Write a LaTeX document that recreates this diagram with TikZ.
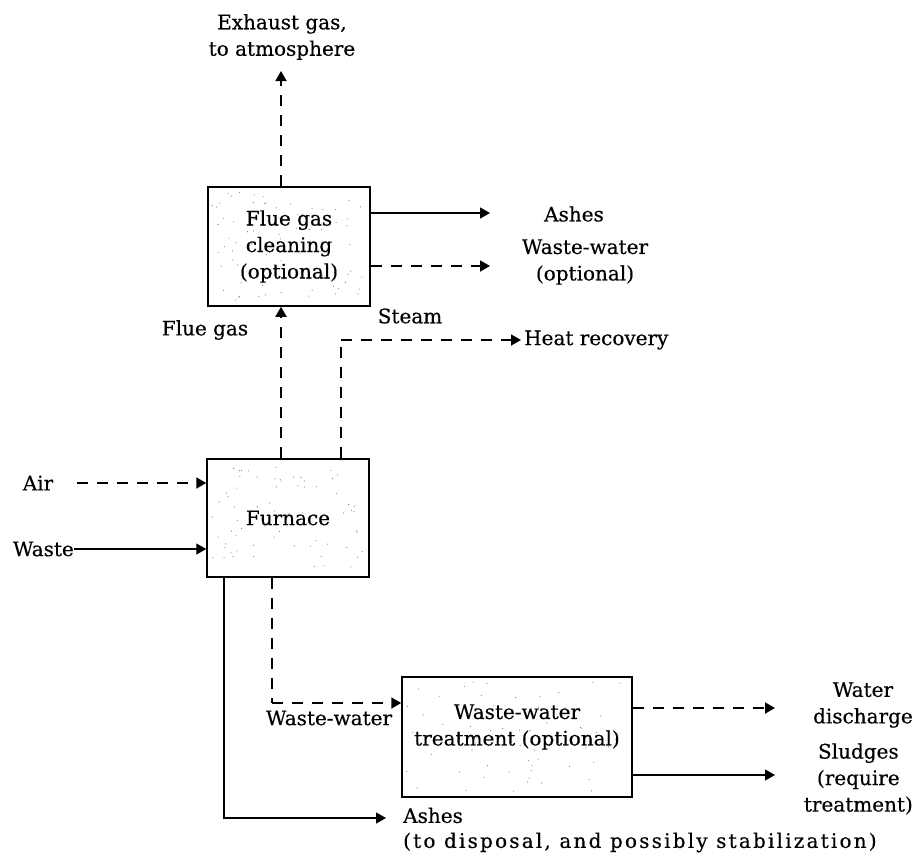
\documentclass[tikz,border=0pt]{standalone}
\usepackage{fontspec}
\setmainfont{DejaVu Serif}[FakeBold=0.4]
\usetikzlibrary{arrows.meta,calc,backgrounds}
\tikzset{
  txt/.style={font=\fontsize{20}{26.5}\selectfont, inner sep=0pt, align=center},
  procbox/.style={draw, line width=1.5pt, inner sep=0pt, align=center, font=\fontsize{20}{26.5}\selectfont},
  flow/.style={line width=1.3pt, -{Triangle[length=10pt,width=11pt]}},
  dflow/.style={line width=1.8pt, dash pattern=on 11pt off 9pt, -{Triangle[length=10pt,width=11pt]}},
  dline/.style={line width=1.8pt, dash pattern=on 11pt off 9pt},
  speck/.style={fill=black!55}
}
\begin{document}
\begin{tikzpicture}[x=1pt,y=-1pt]
\useasboundingbox (0,0) rectangle (915,854);
% process boxes
\node[procbox, minimum width=162pt, minimum height=119pt] (flue) at (289,246.5) {Flue gas\\cleaning\\(optional)};
\node[procbox, minimum width=162pt, minimum height=118pt] (furn) at (288,518) {Furnace};
\node[procbox, minimum width=230pt, minimum height=120pt] (wwt) at (517,737) {};
\node[txt] (wwttext) at (517,727) {Waste-water\\treatment (optional)};
% speckle texture
\begin{pgfonlayer}{background}
\pgfmathsetseed{7}
\foreach \i in {1,...,80}{\fill[speck] ($(flue.north west)+({5+rnd*152},{5+rnd*109})$) circle (0.55pt);}
\foreach \i in {1,...,70}{\fill[speck] ($(furn.north west)+({5+rnd*152},{5+rnd*108})$) circle (0.55pt);}
\foreach \i in {1,...,60}{\fill[speck] ($(wwt.north west)+({5+rnd*220},{5+rnd*110})$) circle (0.55pt);}
\end{pgfonlayer}
% labels
\node[txt] (exh) at (282,37) {Exhaust gas,\\to atmosphere};
\node[txt] (ash1) at (574,214) {Ashes};
\node[txt] (ww1) at (585,262) {Waste-water\\(optional)};
\node[txt] (steam) at (410,316) {Steam};
\node[txt, anchor=west] (heat) at (524,340) {Heat recovery};
\node[txt] (fgl) at (205,330) {Flue gas};
\node[txt] (air) at (38,483) {Air};
\node[txt, anchor=east] (waste) at (74,549) {Waste};
\node[txt] (wwl) at (329,718) {Waste-water};
\node[txt, anchor=east] (water) at (913,705) {Water\\discharge};
\node[txt, anchor=east] (sludge) at (913,779) {Sludges\\(require\\treatment)};
\node[txt, align=left, anchor=west, font=\fontsize{20}{25}\selectfont] (ash2) at (403,830) {Ashes\\\addfontfeature{LetterSpace=11}(to disposal, and possibly stabilization)};
% named points
\coordinate (exTip) at (281,71);
\coordinate (fgx) at (281,0);
\coordinate (stx) at (341,340);
\coordinate (heatTip) at (521,340);
\coordinate (ashTip) at (490,213);
\coordinate (wwTip) at (490,266);
\coordinate (airS) at (77,483);
\coordinate (ashx) at (224,0);
\coordinate (ash2Tip) at (386,818);
\coordinate (wwx) at (272,703);
\coordinate (waterTip) at (775,708);
\coordinate (sludgeTip) at (775,775);
% connectors
\draw[dflow] (flue.north -| exTip) -- (exTip);
\draw[dflow] (furn.north -| fgx) -- (flue.south -| fgx);
\draw[dline] (furn.north -| stx) -- (stx);
\draw[dflow] (stx) -- (heatTip);
\draw[flow] (flue.east |- ashTip) -- (ashTip);
\draw[dflow] (flue.east |- wwTip) -- (wwTip);
\draw[dflow] (airS) -- (furn.west |- airS);
\draw[flow] (waste.east) -- (furn.west |- waste.east);
\draw[flow] (furn.south -| ashx) |- (ash2Tip);
\draw[dline] (furn.south -| wwx) -- (wwx);
\draw[dflow] (wwx) -- (wwt.west |- wwx);
\draw[dflow] (wwt.east |- waterTip) -- (waterTip);
\draw[flow] (wwt.east |- sludgeTip) -- (sludgeTip);
\end{tikzpicture}
\end{document}
